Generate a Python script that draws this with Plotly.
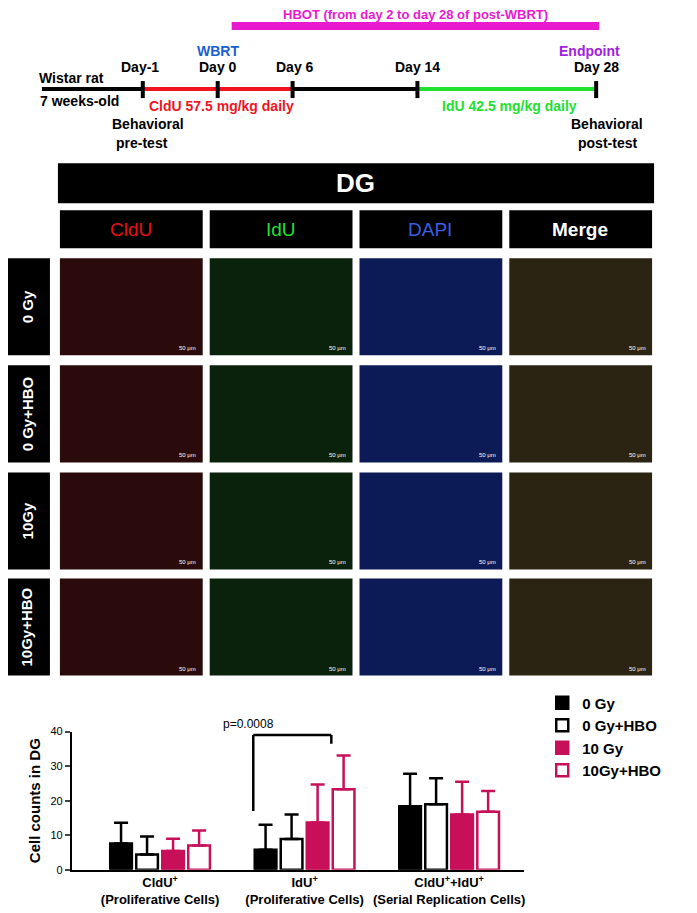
import plotly.graph_objects as go

W, H = 697, 913
groups = ["CldU<sup>+</sup><br>(Proliferative Cells)", "IdU<sup>+</sup><br>(Proliferative Cells)",
          "CldU<sup>+</sup>+IdU<sup>+</sup><br>(Serial Replication Cells)"]
series = ["0 Gy", "0 Gy+HBO", "10 Gy", "10Gy+HBO"]
means = {"0 Gy": [7.6, 5.8, 18.4], "0 Gy+HBO": [4.4, 8.9, 19.0],
         "10 Gy": [5.4, 13.7, 16.0], "10Gy+HBO": [7.0, 23.3, 16.8]}
sds = {"0 Gy": [6.0, 7.2, 9.4], "0 Gy+HBO": [5.2, 7.1, 7.5],
       "10 Gy": [3.6, 11.0, 9.5], "10Gy+HBO": [4.4, 9.8, 6.0]}
rows = ["0 Gy", "0 Gy+HBO", "10Gy", "10Gy+HBO"]
cols = ["CldU", "IdU", "DAPI", "Merge"]
p_text = "p=0.0008"

MAG = "#c8105a"
fills = ["black", "white", MAG, "white"]
lines = ["black", "black", MAG, MAG]

def px(x): return (x - 8) / W
def py(y): return 1 - ((y - 14) / 0.986) / H

fig = go.Figure()
for i, s in enumerate(series):
    fig.add_trace(go.Bar(
        x=[0, 1, 2], y=means[s], name=f"<b>{s}</b>", width=0.15, offset=-0.345 + i * 0.18,
        marker=dict(color=fills[i], line=dict(color=lines[i], width=2.5)),
        error_y=dict(type="data", array=sds[s], arrayminus=[0, 0, 0], symmetric=False,
                     color=lines[i], thickness=2.5, width=7)))

shapes, ann = [], []
def rect(x0, y0, x1, y1, color):
    shapes.append(dict(type="rect", xref="paper", yref="paper", x0=px(x0), x1=px(x1),
                       y0=py(y1), y1=py(y0), fillcolor=color,
                       line=dict(color=color, width=0), layer="above"))
def seg(x0, y0, x1, y1, color, w):
    shapes.append(dict(type="line", xref="paper", yref="paper", x0=px(x0), x1=px(x1),
                       y0=py(y0), y1=py(y1), line=dict(color=color, width=w)))
def txt(x, y, t, color="black", size=14, bold=True, angle=0):
    ann.append(dict(xref="paper", yref="paper", x=px(x), y=py(y), text=f"<b>{t}</b>" if bold else t,
                    showarrow=False, textangle=angle,
                    font=dict(color=color, size=size, family="Arial, Liberation Sans"),
                    xanchor="center", yanchor="middle"))

# timeline
rect(232, 22, 600, 30, "#e81ad0")
txt(416, 14, "HBOT (from day 2 to day 28 of post-WBRT)", "#e81ad0", 13)
seg(42, 89, 143, 89, "black", 4)
seg(143, 89, 293, 89, "#f0141e", 4)
seg(293, 89, 418, 89, "black", 4)
seg(418, 89, 597, 89, "#22e030", 4)
for x in [143, 218, 293, 418, 597]:
    seg(x, 81, x, 98, "black", 4)
txt(72, 78, "Wistar rat"); txt(80, 101, "7 weeks-old")
txt(140, 67, "Day-1"); txt(218, 67, "Day 0"); txt(218, 51, "WBRT", "#1a5fd0")
txt(295, 67, "Day 6"); txt(418, 67, "Day 14"); txt(597, 67, "Day 28"); txt(590, 51, "Endpoint", "#a020e0")
txt(222, 106, "CldU 57.5 mg/kg daily", "#f0141e")
txt(510, 106, "IdU 42.5 mg/kg daily", "#22e030")
txt(148, 124, "Behavioral"); txt(142, 143, "pre-test")
txt(608, 124, "Behavioral"); txt(608, 143, "post-test")

# panel headers
rect(58, 163, 655, 203, "black")
txt(356, 183, "DG", "white", 26)
ccol = ["#e81010", "#22e030", "#3a5fe0", "white"]
xs = [60, 210, 360, 510]
for j, c in enumerate(cols):
    rect(xs[j], 210, xs[j] + 143, 248, "black")
    txt(xs[j] + 71, 229, c, ccol[j], 19, bold=(c == "Merge"))
imgc = ["#2a0a0a", "#0a220c", "#0c1a55", "#2b2412"]
ys = [258, 365, 472, 578]
for i, r in enumerate(rows):
    rect(5, ys[i], 50, ys[i] + 97, "black")
    txt(27, ys[i] + 48, r, "white", 15, angle=-90)
    for j in range(4):
        rect(xs[j], ys[i], xs[j] + 143, ys[i] + 97, imgc[j])
        txt(xs[j] + 128, ys[i] + 90, "50 μm", "white", 6, bold=False)

# significance bracket
for s in [dict(x0=0.645, x1=0.645, y0=17, y1=39), dict(x0=0.645, x1=1.185, y0=39, y1=39),
          dict(x0=1.185, x1=1.185, y0=39, y1=36.5)]:
    shapes.append(dict(type="line", xref="x", yref="y", line=dict(color="black", width=2.5), **s))
txt(249, 723, p_text, "black", 12, bold=False)

fig.update_layout(
    width=W, height=H, margin=dict(l=0, r=0, t=0, b=0), plot_bgcolor="white", paper_bgcolor="white",
    barmode="overlay", shapes=shapes, annotations=ann,
    font=dict(family="Arial, Liberation Sans", color="black"),
    xaxis=dict(domain=[px(72), px(525)], range=[-0.61, 2.52], tickvals=[0, 1, 2],
               ticktext=[f"<b>{g}</b>" for g in groups],
               showline=True, linecolor="black", linewidth=2, ticks="", tickfont=dict(size=13)),
    yaxis=dict(domain=[py(869), py(731)], range=[0, 40], dtick=10, showline=True, linecolor="black",
               linewidth=2, ticks="outside", tickwidth=2, ticklen=5, showgrid=False, zeroline=False,
               tickfont=dict(size=11), title=dict(text="<b>Cell counts in DG</b>", font=dict(size=15), standoff=6)),
    legend=dict(x=px(543), y=py(686), xanchor="left", yanchor="top", font=dict(size=15, family="Arial"),
                itemwidth=30, traceorder="normal", tracegroupgap=0),
)
fig.write_html("out.html")
